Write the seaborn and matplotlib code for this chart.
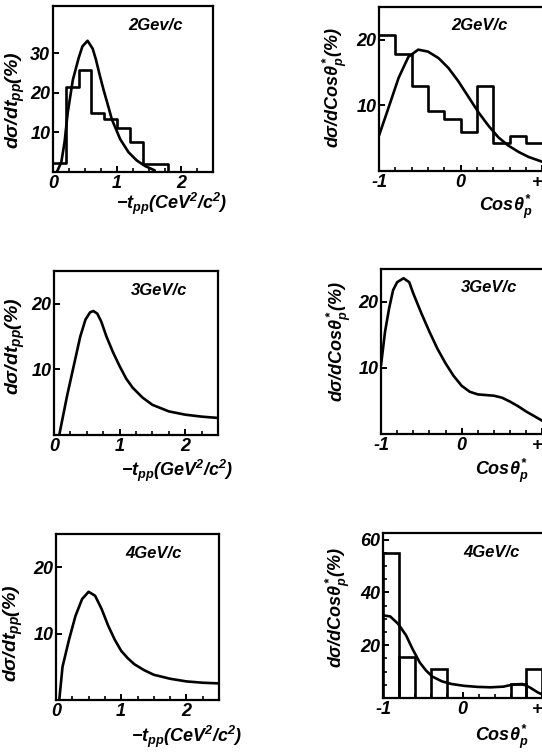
import numpy as np
import pandas as pd
import matplotlib
matplotlib.use("Agg")
import matplotlib.pyplot as plt
from matplotlib.ticker import MultipleLocator, FixedLocator
import seaborn as sns

# ---------------- data ----------------
# 2 GeV/c, -t distribution
t2_edges = [0.0, 0.2, 0.4, 0.6, 0.8, 1.0, 1.2, 1.4, 1.6, 1.8, 2.0]
t2_hist = [2.2, 21.5, 25.7, 15.0, 13.4, 11.1, 7.5, 1.9, 1.9, 0.0]
t2_curve_x = [0.06, 0.13, 0.18, 0.23, 0.31, 0.40, 0.46, 0.54, 0.62, 0.67, 0.73, 0.79,
              0.86, 0.92, 1.05, 1.18, 1.31, 1.44, 1.59]
t2_curve_y = [0.0, 2.5, 7.5, 15.0, 23.3, 28.8, 31.8, 33.2, 31.2, 28.5, 24.5, 20.8,
              16.8, 13.3, 8.3, 5.0, 2.9, 1.5, 0.4]

# 2 GeV/c, cos theta distribution
c2_edges = [-1.0, -0.8, -0.6, -0.4, -0.2, 0.0, 0.2, 0.4, 0.6, 0.8, 1.0]
c2_hist = [20.7, 17.8, 12.9, 9.1, 8.0, 6.0, 12.9, 4.2, 5.4, 4.2]
c2_curve_x = [-1.0, -0.89, -0.76, -0.64, -0.52, -0.40, -0.27, -0.15, -0.03, 0.09,
              0.22, 0.34, 0.46, 0.58, 0.71, 0.83, 1.0]
c2_curve_y = [5.4, 9.4, 14.2, 17.4, 18.5, 18.2, 17.2, 15.7, 13.7, 11.4,
              8.9, 6.9, 5.15, 3.9, 2.9, 2.15, 1.4]

# 3 GeV/c
t3_curve_x = [0.08, 0.20, 0.30, 0.40, 0.48, 0.55, 0.60, 0.66, 0.72, 0.80, 0.90, 1.00,
              1.10, 1.20, 1.35, 1.50, 1.75, 2.00, 2.25, 2.50]
t3_curve_y = [0.0, 6.0, 10.5, 15.0, 17.6, 18.7, 18.9, 18.5, 17.3, 15.0, 12.6, 10.5,
              8.6, 7.2, 5.7, 4.6, 3.6, 3.1, 2.8, 2.6]
c3_curve_x = [-1.0, -0.95, -0.90, -0.85, -0.80, -0.72, -0.65, -0.60, -0.50, -0.40,
              -0.30, -0.20, -0.10, 0.00, 0.10, 0.20, 0.30, 0.40, 0.50, 0.60, 0.70,
              0.80, 0.90, 1.00]
c3_curve_y = [10.4, 15.5, 19.0, 21.8, 23.0, 23.6, 23.0, 21.3, 18.3, 15.5,
              12.9, 10.7, 8.8, 7.3, 6.4, 6.0, 5.9, 5.8, 5.5, 4.9, 4.2,
              3.4, 2.7, 2.0]

# 4 GeV/c
t4_curve_x = [0.05, 0.10, 0.20, 0.30, 0.40, 0.50, 0.60, 0.70, 0.80, 0.90, 1.00,
              1.10, 1.20, 1.35, 1.50, 1.75, 2.00, 2.25, 2.50]
t4_curve_y = [0.0, 5.0, 9.1, 12.7, 15.2, 16.3, 15.7, 13.7, 11.2, 9.1, 7.4,
              6.3, 5.4, 4.5, 3.8, 3.2, 2.8, 2.6, 2.5]
c4_edges = [-1.0, -0.8, -0.6, -0.4, -0.2, 0.0, 0.2, 0.4, 0.6, 0.8, 1.0]
c4_hist = [54.9, 15.7, 0.0, 11.0, 0.0, 0.0, 0.0, 0.0, 5.3, 11.0]
c4_curve_x = [-1.0, -0.91, -0.81, -0.71, -0.63, -0.54, -0.46, -0.38, -0.26, -0.14,
              0.02, 0.19, 0.35, 0.51, 0.63, 0.75, 0.84, 0.94, 1.0]
c4_curve_y = [31.3, 30.9, 28.1, 23.7, 18.6, 13.5, 10.4, 8.1, 6.3, 5.3,
              4.6, 4.2, 4.05, 4.3, 5.1, 5.3, 4.05, 2.15, 1.3]

momenta = ["2Gev/c", "2GeV/c", "3GeV/c", "3GeV/c", "4GeV/c", "4GeV/c"]
t_xlabels = [r"$\mathdefault{-}t_{pp}$(CeV$^{2}$/c$^{2}$)",
             r"$\mathdefault{-}t_{pp}$(GeV$^{2}$/c$^{2}$)",
             r"$\mathdefault{-}t_{pp}$(CeV$^{2}$/c$^{2}$)"]
t_ylabel = r"$d\sigma/dt_{pp}$(%)"
c_xlabel = r"Cos$\theta^{*}_{p}$"
c_ylabel = r"$d\sigma/d$Cos$\theta^{*}_{p}$(%)"
t_ticklabels = ["0", "1", "2"]
c_ticklabels = ["-1", "0", "+1"]

# ---------------- style ----------------
sns.set_theme(style="ticks")
FONT = "Liberation Sans"
plt.rcParams["font.family"] = [FONT, "DejaVu Sans"]
plt.rcParams["font.weight"] = "bold"
plt.rcParams["font.style"] = "italic"
plt.rcParams["axes.labelweight"] = "bold"
for k in ["text.color", "axes.labelcolor", "xtick.color", "ytick.color", "axes.edgecolor"]:
    plt.rcParams[k] = "black"
plt.rcParams["mathtext.fontset"] = "custom"
plt.rcParams["mathtext.rm"] = FONT + ":style=italic:weight=bold"
plt.rcParams["mathtext.it"] = FONT + ":style=italic:weight=bold"
plt.rcParams["mathtext.bf"] = FONT + ":style=italic:weight=bold"
plt.rcParams["mathtext.default"] = "it"

W, H = 542, 752
fig = plt.figure(figsize=(W / 100, H / 100), dpi=100)
fig.patch.set_facecolor("white")


def make_ax(left, top, right, bottom):
    return fig.add_axes([left / W, 1 - bottom / H, (right - left) / W, (bottom - top) / H])


axes = [
    make_ax(53, 6, 213, 172),
    make_ax(379, 7, 544, 171),
    make_ax(54, 271, 218, 435),
    make_ax(381, 269, 544, 434),
    make_ax(56, 534, 219, 700),
    make_ax(383, 533, 544, 698),
]

LW = 1.9
ylims = [42, 25, 25, 25, 25, 62.5]
yticks = [[10, 20, 30], [10, 20], [10, 20], [10, 20], [10, 20], [20, 40, 60]]
title_pos = [(0.64, 0.885), (0.61, 0.89), (0.64, 0.88), (0.66, 0.89), (0.60, 0.885), (0.675, 0.88)]
ylab_pos = [(-0.16, 0.43), (-0.18, 0.51), (-0.165, 0.54), (-0.17, 0.56), (-0.19, 0.40), (-0.19, 0.55)]
xlab_pos = [(0.74, -0.11), (0.77, -0.135), (0.75, -0.14), (0.74, -0.14), (0.80, -0.14), (0.74, -0.15)]

# draw
ax = axes[0]
sns.histplot(x=[(a + b) / 2 for a, b in zip(t2_edges[:-1], t2_edges[1:])], weights=t2_hist,
             bins=t2_edges, element="step", fill=False, color="black", linewidth=LW, ax=ax)
sns.lineplot(x=t2_curve_x, y=t2_curve_y, color="black", linewidth=LW, ax=ax)

ax = axes[1]
sns.histplot(x=[(a + b) / 2 for a, b in zip(c2_edges[:-1], c2_edges[1:])], weights=c2_hist,
             bins=c2_edges, element="step", fill=False, color="black", linewidth=LW, ax=ax)
sns.lineplot(x=c2_curve_x, y=c2_curve_y, color="black", linewidth=LW, ax=ax)

sns.lineplot(x=t3_curve_x, y=t3_curve_y, color="black", linewidth=LW, ax=axes[2])
sns.lineplot(x=c3_curve_x, y=c3_curve_y, color="black", linewidth=LW, ax=axes[3])
sns.lineplot(x=t4_curve_x, y=t4_curve_y, color="black", linewidth=LW, ax=axes[4])

ax = axes[5]
sns.histplot(x=[(a + b) / 2 for a, b in zip(c4_edges[:-1], c4_edges[1:])], weights=c4_hist,
             bins=c4_edges, element="bars", fill=False, color="black", linewidth=LW, ax=ax)
sns.lineplot(x=c4_curve_x, y=c4_curve_y, color="black", linewidth=LW, ax=ax)

for i, ax in enumerate(axes):
    left_col = (i % 2 == 0)
    ax.set_facecolor("white")
    for s in ax.spines.values():
        s.set_visible(True)
        s.set_linewidth(1.6)
        s.set_color("black")
    if left_col:
        ax.set_xlim(0, 2.5)
        ax.xaxis.set_major_locator(FixedLocator([0, 1, 2]))
        ax.set_xticklabels(t_ticklabels)
        ax.xaxis.set_minor_locator(MultipleLocator(0.25))
        ax.set_xlabel(t_xlabels[i // 2], fontsize=13, fontweight="bold")
        ax.set_ylabel(t_ylabel, fontsize=14, fontweight="bold")
    else:
        ax.set_xlim(-1, 1.02)
        ax.xaxis.set_major_locator(FixedLocator([-1, 0, 1]))
        ax.set_xticklabels(c_ticklabels)
        ax.xaxis.set_minor_locator(MultipleLocator(0.2))
        ax.set_xlabel(c_xlabel, fontsize=13, fontweight="bold")
        ax.set_ylabel(c_ylabel, fontsize=13, fontweight="bold")
    ax.set_ylim(0, ylims[i])
    ax.yaxis.set_major_locator(FixedLocator(yticks[i]))
    if i == 5:
        ax.yaxis.set_minor_locator(MultipleLocator(5))
    ax.tick_params(axis="both", which="major", direction="in", length=4, width=1.4,
                   labelsize=13, pad=2, top=False, right=False, colors="black")
    ax.tick_params(axis="both", which="minor", direction="in", length=3, width=1.2,
                   top=False, right=False, left=(i == 5), colors="black")
    for lab in ax.get_xticklabels() + ax.get_yticklabels():
        lab.set_fontweight("bold")
        lab.set_fontstyle("italic")
    ax.yaxis.set_label_coords(*ylab_pos[i])
    ax.xaxis.set_label_coords(*xlab_pos[i])
    ax.text(title_pos[i][0], title_pos[i][1], momenta[i], transform=ax.transAxes,
            ha="center", va="center", fontsize=12, fontweight="bold", fontstyle="italic",
            color="black")

fig.savefig("out.png", dpi=100, facecolor="white")
